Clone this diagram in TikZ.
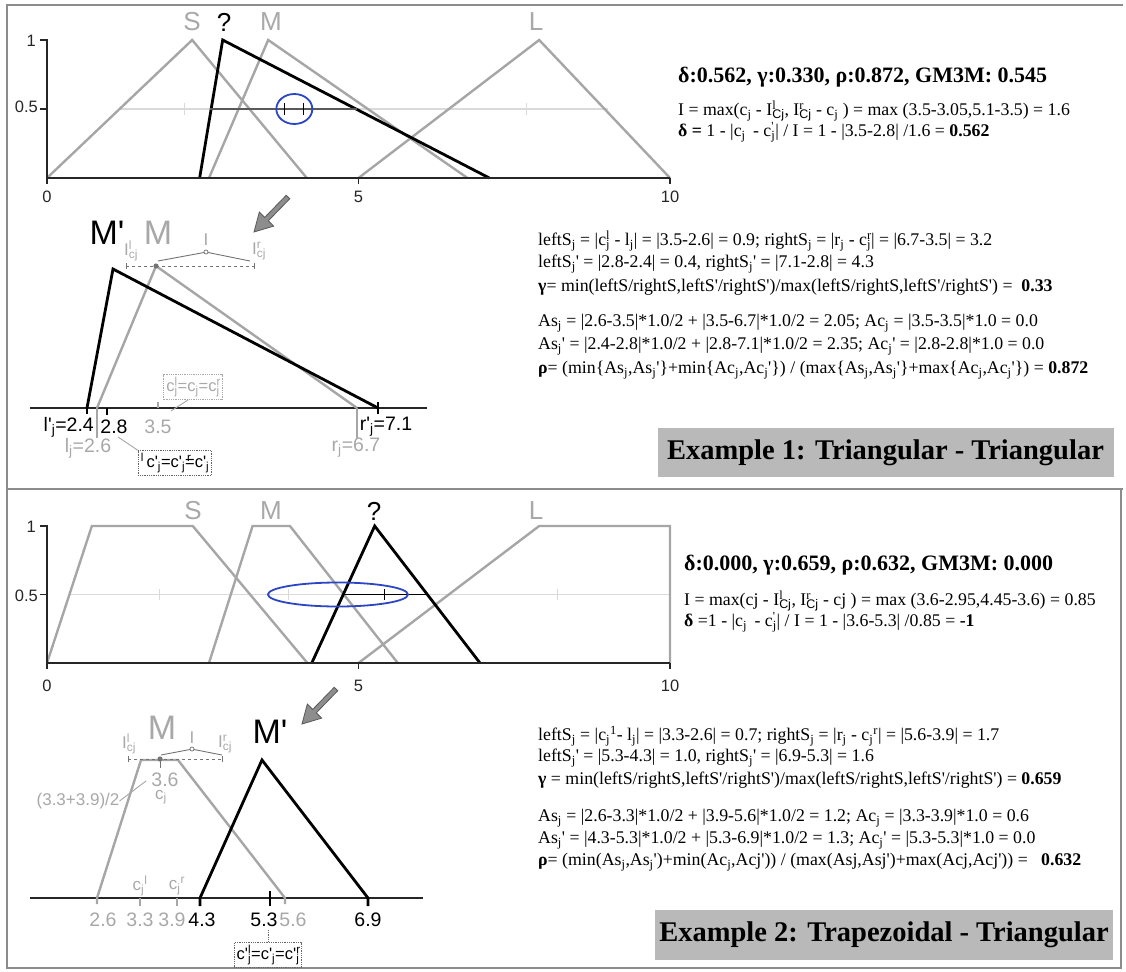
\documentclass[tikz,border=0pt]{standalone}
\usepackage{fontspec}
\setmainfont{Liberation Serif}
\newfontfamily\arial{Liberation Sans}
\definecolor{mf}{HTML}{A6A6A6}
\definecolor{lite}{HTML}{DADADA}
\definecolor{framec}{HTML}{8C8C8C}
\definecolor{boxgray}{HTML}{B9B9B9}
\definecolor{ellblue}{HTML}{2B45C4}
\definecolor{labgray}{HTML}{A8A8A8}
\newcommand\ap{\textquotesingle}
\newcommand\ssub[2]{\rlap{\textsuperscript{#1}}\textsubscript{#2}}
\newcommand\sj{\textsubscript{j}}
\begin{document}
\begin{tikzpicture}[x=1pt,y=-1pt,
  gl/.style={draw=mf, line width=2.4pt, line join=miter},
  bl/.style={draw=black, line width=2.8pt, line join=miter},
  ax/.style={draw=black!85, line width=1.3pt},
  leader/.style={draw=mf, line width=0.9pt},
  lab/.style={inner sep=0pt, font=\arial\fontsize{16.5}{18}\selectfont, text=black!85},
  big/.style={inner sep=0pt, font=\arial\fontsize{26}{28}\selectfont},
  huge/.style={inner sep=0pt, font=\arial\fontsize{34}{36}\selectfont},
  glab/.style={inner sep=0pt, font=\arial\fontsize{19.5}{21}\selectfont, text=labgray},
  klab/.style={inner sep=0pt, font=\arial\fontsize{19.5}{21}\selectfont, text=black},
  slab/.style={inner sep=0pt, font=\arial\fontsize{17}{19}\selectfont, text=labgray},
  frm/.style={inner sep=0pt, anchor=west, font=\fontsize{17.8}{20}\selectfont},
  hdr/.style={inner sep=0pt, anchor=west, font=\bfseries\fontsize{22}{24}\selectfont},
  exbox/.style={fill=boxgray, minimum width=456pt, minimum height=49pt, inner sep=0pt, font=\bfseries\fontsize{28.5}{30}\selectfont},
  dbox/.style={densely dotted, line width=0.8pt, inner sep=2.5pt, font=\arial\fontsize{16.5}{18}\selectfont},
  bigarrow/.style={fill=mf!85!black, draw=black!65, line width=0.8pt, line join=miter}
]
\useasboundingbox (0,0) rectangle (1126,971);
% frame
\draw[framec, line width=1.2pt] (1123,5) -- (7,5) -- (7,968) -- (1121,968) -- (1121,489);
\draw[framec, line width=1.2pt] (7,489) -- (1123,489);

% ================= TOP PLOT =================
\begin{scope}[xshift=47pt, yshift=-178pt, x=62.3pt, y=138pt]
  \draw[lite, line width=1.5pt] (1.17,0.5) -- (9.0,0.5);
  \foreach \u in {2.2,7.7} \draw[lite, line width=1pt] (\u,0.46) -- (\u,0.54);
  \draw[gl] (0,0) -- (2.33,1) -- (4.17,0);
  \draw[gl] (2.6,0) -- (3.55,1) -- (6.75,0);
  \draw[gl] (5,0) -- (7.9,1) -- (10,0);
  \draw[bl] (2.45,0) -- (2.82,1) -- (7.1,0);
  \draw[black!65, line width=1.5pt] (2.62,0.5) -- (4.97,0.5);
  \foreach \u in {3.82,4.12} \draw[black, line width=1pt] (\u,0.46) -- (\u,0.54);
  \draw[ellblue, line width=1.8pt] (3.97,0.5) ellipse [x radius=18pt, y radius=15pt];
\end{scope}
\draw[ax] (40,40) -- (47,40) -- (47,178) -- (670,178);
\draw[ax] (40,109) -- (47,109);
\foreach \xx in {47,358.5,670} \draw[ax] (\xx,178) -- (\xx,184);
\node[lab] (t1a) at (47,197) {0};
\node[lab] (t1b) at (358.5,197) {5};
\node[lab] (t1c) at (670,197) {10};
\node[lab, anchor=east] (t1y1) at (36,41) {1};
\node[lab, anchor=east] (t1y5) at (38,107) {0.5};
\node[big, text=labgray] (S1) at (192,22) {S};
\node[big, text=black] (Q1) at (224,22) {?};
\node[big, text=labgray] (M1) at (271,22) {M};
\node[big, text=labgray] (L1) at (536,22) {L};

% top right text
\node[hdr] (h1) at (678,77) {δ:0.562, γ:0.330, ρ:0.872, GM3M: 0.545};
\node[frm] (f1a) at (678,111) {I = max(c\sj{} - I\ssub{l}{\arial Cj}, I\ssub{r}{\arial Cj} - c\sj{} ) = max (3.5-3.05,5.1-3.5) = 1.6};
\node[frm] (f1b) at (678,132) {\textbf{δ =} 1 - |c\sj{}\,  - c\ssub{\ap}{j}| / I = 1 - |3.5-2.8| /1.6 = \textbf{0.562}};

\node[frm] (g1a) at (538,241) {leftS\sj{} = |c\ssub{l}{j} - l\sj| = |3.5-2.6| = 0.9; rightS\sj{} = |r\sj{} - c\ssub{r}{j}| = |6.7-3.5| = 3.2};
\node[frm] (g1b) at (538,264) {leftS\sj\ap{} = |2.8-2.4| = 0.4, rightS\sj\ap{} = |7.1-2.8| = 4.3};
\node[frm] (g1c) at (538,287) {\textbf{γ}= min(leftS/rightS,leftS\ap/rightS\ap)/max(leftS/rightS,leftS\ap/rightS\ap) = \ \textbf{0.33}};
\node[frm] (g1d) at (538,323) {As\sj{} = |2.6-3.5|*1.0/2 + |3.5-6.7|*1.0/2 = 2.05; Ac\sj{} = |3.5-3.5|*1.0 = 0.0};
\node[frm] (g1e) at (538,346) {As\sj\ap{} = |2.4-2.8|*1.0/2 + |2.8-7.1|*1.0/2 = 2.35; Ac\sj\ap{} = |2.8-2.8|*1.0 = 0.0};
\node[frm] (g1f) at (538,370) {\textbf{ρ}= (min\{As\sj,As\sj\ap\}+min\{Ac\sj,Ac\sj\ap\}) / (max\{As\sj,As\sj\ap\}+max\{Ac\sj,Ac\sj\ap\}) = \textbf{0.872}};

\node[exbox] (ex1) at (885.5,452.5) {Example 1: Triangular - Triangular};

% detail 1
\draw[black!85, line width=1.2pt] (30,408) -- (427,408);
\draw[mf, line width=1.4pt] (97,408) -- (97,438);
\draw[mf, line width=1.4pt] (357,408) -- (357,438);
\draw[mf, line width=1.2pt] (158,402) -- (158,408);
\draw[gl] (97,408) -- (156,266) -- (357,408);
\draw[bl] (87,408) -- (113,269) -- (378,408);
\draw[black, line width=1.4pt] (87,408) -- (87,414);
\draw[black, line width=1.4pt] (378,402) -- (378,414);
\draw[black, line width=1.4pt] (107,408) -- (107,415);
\draw[black!55, line width=1pt, dashed] (126,266) -- (254,266);
\draw[black!55, line width=1pt] (126,263) -- (126,269) (254,263) -- (254,269);
\fill[black!55] (156,266) circle (2.6pt);
\draw[black!55, line width=0.9pt] (158,261) -- (204,252.5) (208,252.5) -- (250,261);
\draw[black!55, line width=0.7pt, fill=white] (206,252) circle (2pt);
\node[slab] (I1) at (206,240) {I};
\node[slab] (Il1) at (131,251) {I\ssub{l}{cj}};
\node[slab] (Ir1) at (259,251) {I\ssub{r}{cj}};
\node[huge] (Mp1) at (107,233) {M\ap};
\node[huge, text=labgray] (Md1) at (158,233) {M};
\node[klab, anchor=east] (lpj) at (94,427) {l\ap\sj=2.4};
\node[klab] (t28) at (114,427) {2.8};
\node[glab] (t35) at (158,427) {3.5};
\node[klab] (rpj) at (386,427) {r\ap\sj=7.1};
\node[glab] (lj) at (88,448) {l\sj=2.6};
\node[glab] (rj) at (356,448) {r\sj=6.7};
\node[dbox, draw=labgray, text=labgray] (b1) at (193,387) {c\ssub{l}{j}=c\sj=c\ssub{r}{j}};
\draw[leader] (b1.250) -- (171,411);
\node[dbox, draw=black!60, text=black] (b2) at (175,463) {\textsuperscript{l}\,c\ap\sj=c\ap\sj\rlap{\textsuperscript{\,r}}=c\ap\sj};
\draw[leader] (b2.north west) -- (118,437);
\begin{scope}[shift={(254,232)}]
  \path[bigarrow] (0,0) -- (19.7,-5.9) -- (14.3,-11.2) -- (35.8,-33.3) -- (32.2,-36.7) -- (10.7,-14.6) -- (5.3,-19.9) -- cycle;
\end{scope}

% ================= BOTTOM PLOT =================
\begin{scope}[xshift=47pt, yshift=-663pt, x=62.3pt, y=137pt]
  \draw[lite, line width=1.5pt] (0.36,0.5) -- (10,0.5);
  \foreach \u in {1.8,3.87,8.2} \draw[lite, line width=1pt] (\u,0.46) -- (\u,0.54);
  \draw[gl] (0,0) -- (0.72,1) -- (2.34,1) -- (4.18,0);
  \draw[gl] (2.6,0) -- (3.3,1) -- (3.9,1) -- (5.63,0);
  \draw[gl] (5,0) -- (7.9,1) -- (10,1) -- (10,0);
  \draw[bl] (4.25,0) -- (5.26,1) -- (6.95,0);
  \draw[black, line width=1.2pt] (4.75,0.5) -- (6.08,0.5);
  \draw[black, line width=1pt] (5.42,0.46) -- (5.42,0.54);
  \draw[ellblue, line width=1.8pt] (4.67,0.5) ellipse [x radius=70pt, y radius=12pt];
\end{scope}
\draw[ax] (40,526) -- (47,526) -- (47,663) -- (670,663);
\draw[ax] (40,594.5) -- (47,594.5);
\foreach \xx in {47,358.5,670} \draw[ax] (\xx,663) -- (\xx,669);
\node[lab] (t2a) at (47,686) {0};
\node[lab] (t2b) at (358.5,686) {5};
\node[lab] (t2c) at (670,686) {10};
\node[lab, anchor=east] (t2y1) at (36,527) {1};
\node[lab, anchor=east] (t2y5) at (38,596) {0.5};
\node[big, text=labgray] (S2) at (193,511) {S};
\node[big, text=labgray] (M2) at (271,511) {M};
\node[big, text=black] (Q2) at (374,511) {?};
\node[big, text=labgray] (L2) at (536,511) {L};

\node[hdr] (h2) at (684,565) {δ:0.000, γ:0.659, ρ:0.632, GM3M: 0.000};
\node[frm] (f2a) at (684,601) {I = max(cj - I\ssub{l}{\arial Cj}, I\ssub{r}{\arial Cj} - cj ) = max (3.6-2.95,4.45-3.6) = 0.85};
\node[frm] (f2b) at (684,622) {\textbf{δ} =1 - |c\sj{}\,  - c\ssub{\ap}{j}| / I = 1 - |3.6-5.3| /0.85 = \textbf{-1}};

\node[frm] (g2a) at (538,736) {leftS\sj{} = |c\sj\textsuperscript{1}- l\sj| = |3.3-2.6| = 0.7; rightS\sj{} = |r\sj{} - c\sj\textsuperscript{r}| = |5.6-3.9| = 1.7};
\node[frm] (g2b) at (538,758) {leftS\sj\ap{} = |5.3-4.3| = 1.0, rightS\sj\ap{} = |6.9-5.3| = 1.6};
\node[frm] (g2c) at (538,780) {\textbf{γ} = min(leftS/rightS,leftS\ap/rightS\ap)/max(leftS/rightS,leftS\ap/rightS\ap) = \textbf{0.659}};
\node[frm] (g2d) at (538,818) {As\sj{} = |2.6-3.3|*1.0/2 + |3.9-5.6|*1.0/2 = 1.2; Ac\sj{} = |3.3-3.9|*1.0 = 0.6};
\node[frm] (g2e) at (538,840) {As\sj\ap{} = |4.3-5.3|*1.0/2 + |5.3-6.9|*1.0/2 = 1.3; Ac\sj\ap{} = |5.3-5.3|*1.0 = 0.0};
\node[frm] (g2f) at (538,862) {\textbf{ρ}= (min(As\sj,As\sj\ap)+min(Ac\sj,Acj\ap)) / (max(Asj,Asj\ap)+max(Acj,Acj\ap)) = \ \ \textbf{0.632}};

\node[exbox, minimum width=458pt, minimum height=50pt] (ex2) at (884,935) {Example 2: Trapezoidal - Triangular};

% detail 2
\draw[black!85, line width=1.2pt] (30,898) -- (423,898);
\draw[gl] (97,904) -- (97,898) -- (141,760) -- (178,760) -- (285,898) -- (285,904);
\draw[mf, line width=1.2pt] (140,898) -- (140,906) (177,898) -- (177,906);
\draw[bl] (200,906) -- (200,898) -- (262,760) -- (368,898) -- (368,906);
\draw[black, line width=1.4pt] (270,891) -- (270,906);
\draw[black!55, line width=1pt, dashed] (128,759) -- (222,759);
\draw[black!55, line width=1pt] (128,756) -- (128,762) (222,756) -- (222,762);
\fill[black!55] (160,759) circle (2.6pt);
\draw[black!55, line width=1pt] (160,759) -- (160,768);
\draw[black!55, line width=0.9pt] (161,755) -- (190,749.5) (194,749.5) -- (222,755);
\draw[black!55, line width=0.7pt, fill=white] (192,749) circle (2pt);
\node[slab] (I2) at (192,738) {I};
\node[slab] (Il2) at (129,744) {I\ssub{l}{cj}};
\node[slab] (Ir2) at (225,744) {I\ssub{r}{cj}};
\node[huge, text=labgray] (Md2) at (162,728) {M};
\node[huge] (Mp2) at (270,732) {M\ap};
\node[glab] (c36) at (165,780) {3.6};
\node[slab] (cj2) at (161,797) {c\sj};
\node[slab] (avg) at (78,801) {(3.3+3.9)/2};
\draw[leader] (avg.east) -- (146,781);
\node[slab] (cl2) at (140,886) {c\sj\textsuperscript{l}};
\node[slab] (cr2) at (177,886) {c\sj\textsuperscript{r}};
\node[glab] (n26) at (103,920) {2.6};
\node[glab] (n33) at (140,920) {3.3};
\node[glab] (n39) at (172,920) {3.9};
\node[klab] (n43) at (202,920) {4.3};
\node[klab] (n53) at (264,920) {5.3};
\node[glab] (n56) at (293,920) {5.6};
\node[klab] (n69) at (368,920) {6.9};
\node[dbox, draw=black!60, text=black] (b3) at (268,955) {c\ap\ssub{l}{j}=c\ap\sj=c\ap\ssub{r}{j}};
\draw[black!60, densely dotted, line width=0.8pt] (268,930) -- (b3.north);
\begin{scope}[shift={(302,724)}]
  \path[bigarrow] (0,0) -- (19.7,-5.9) -- (14.3,-11.2) -- (35.8,-33.3) -- (32.2,-36.7) -- (10.7,-14.6) -- (5.3,-19.9) -- cycle;
\end{scope}
\end{tikzpicture}
\end{document}
